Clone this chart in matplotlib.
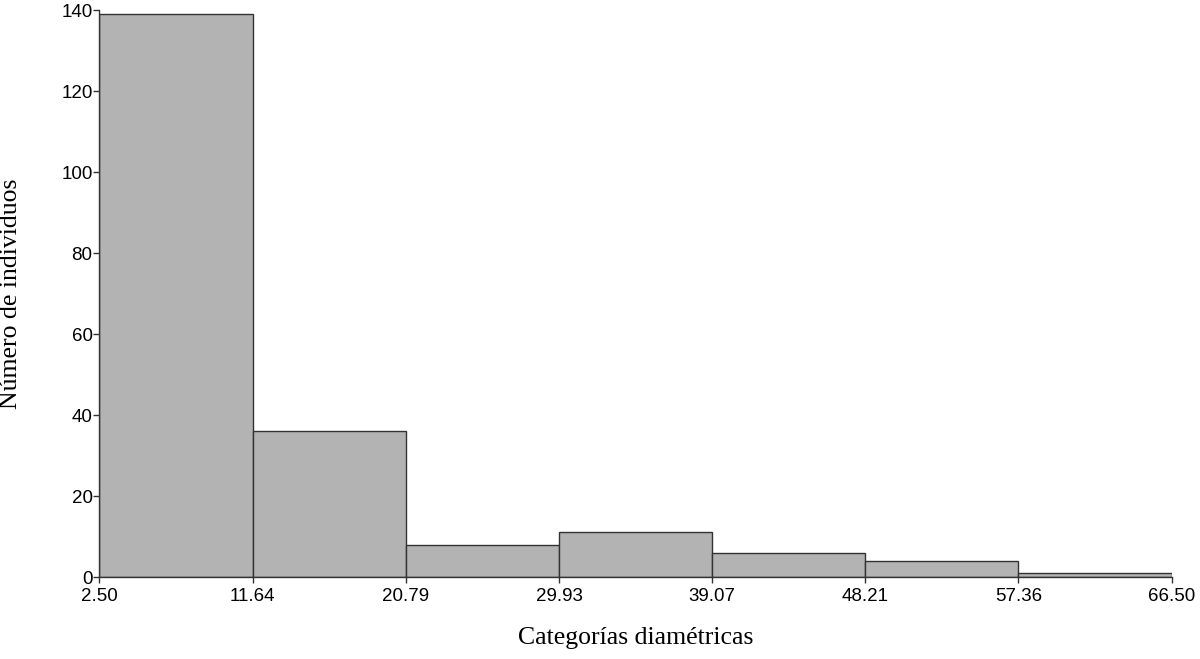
import numpy as np
import matplotlib
matplotlib.use('Agg')
from matplotlib import pyplot as plt

# limites de clase y frecuencias
bin_edges = [2.50, 11.64, 20.79, 29.93, 39.07, 48.21, 57.36, 66.50]
counts = [139, 36, 8, 11, 6, 4, 1]
tick_labels = ['2.50', '11.64', '20.79', '29.93', '39.07', '48.21', '57.36', '66.50']
y_ticks = [0, 20, 40, 60, 80, 100, 120, 140]

fig = plt.figure(figsize=(12, 6.59), dpi=100)
ax = fig.add_axes([0.0829, 0.1244, 0.8934, 0.8604])

edges = np.array(bin_edges)
widths = np.diff(edges)
ax.bar(edges[:-1], counts, width=widths, align='edge',
       color='#b3b3b3', edgecolor='#333333', linewidth=1.0)

ax.set_xlim(edges[0], edges[-1])
ax.set_ylim(0, 140)
ax.set_xticks(bin_edges)
ax.set_xticklabels(tick_labels)
ax.set_yticks(y_ticks)

for s in ['top', 'right']:
    ax.spines[s].set_visible(False)
for s in ['left', 'bottom']:
    ax.spines[s].set_color('#333333')
    ax.spines[s].set_linewidth(1.0)

ax.tick_params(direction='out', length=4, width=1, color='#333333',
               labelsize=13.5)
ax.tick_params(axis='x', pad=4)
ax.tick_params(axis='y', pad=1)
for lab in ax.get_xticklabels() + ax.get_yticklabels():
    lab.set_family('Liberation Sans')

ax.set_xlabel('Categorías diamétricas', family='Liberation Serif',
              fontsize=18.5, labelpad=16)
ax.set_ylabel('Número de individuos', family='Liberation Serif',
              fontsize=18.5, labelpad=28)

fig.savefig('out.png', dpi=100)
